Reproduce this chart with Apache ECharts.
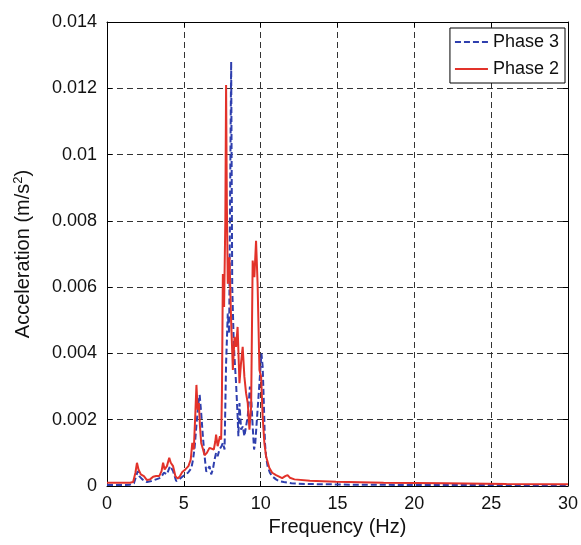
<!DOCTYPE html>
<html>
<head>
<meta charset="utf-8">
<script src="https://cdn.jsdelivr.net/npm/echarts@6/dist/echarts.min.js"></script>
<style>
  html, body { margin: 0; padding: 0; background: #fff; }
  #chart { width: 581px; height: 545px; }
</style>
</head>
<body>
<div id="chart"></div>
<script>
// Phase 3 (blue dashed)
const phase3Freq = [0, 0.5, 1.0, 1.5, 1.75, 1.9, 2.0, 2.1, 2.3, 2.6, 2.9, 3.2, 3.5, 3.7, 3.9, 4.1, 4.3, 4.5, 4.7, 4.9,
  5.1, 5.27, 5.49, 5.6, 5.7, 5.85, 5.95, 6.03, 6.13, 6.24, 6.35, 6.46, 6.55, 6.67, 6.78, 6.89, 7.0, 7.1, 7.2, 7.32,
  7.45, 7.54, 7.65, 7.75, 7.86, 7.95, 8.0, 8.08, 8.15, 8.25, 8.32, 8.4, 8.5, 8.55, 8.62, 8.73, 8.84, 8.94, 9.05, 9.16,
  9.3, 9.4, 9.48, 9.57, 9.65, 9.8, 9.92, 10.05, 10.13, 10.2, 10.28, 10.35, 10.45, 10.6, 10.78, 11.0, 11.2, 11.5, 12.0, 13,
  16, 20, 25, 30]
const phase3Acc = [0.00003, 0.00003, 0.00003, 0.00004, 0.00008, 0.0003, 0.00045, 0.0003, 0.0002, 0.00012, 0.00015, 0.0002, 0.00025, 0.0004, 0.00035, 0.0006, 0.00045, 0.00015, 0.0002, 0.00028,
  0.00035, 0.0004, 0.00054, 0.0008, 0.00115, 0.002, 0.0025, 0.00275, 0.0022, 0.0015, 0.0009, 0.00043, 0.0005, 0.0006, 0.00035, 0.0005, 0.0008, 0.001, 0.0009, 0.0011,
  0.0012, 0.0013, 0.0011, 0.0037, 0.0052, 0.0046, 0.008, 0.0128, 0.006, 0.0043, 0.0037, 0.0031, 0.0021, 0.0015, 0.0025, 0.0017, 0.0018, 0.0015, 0.0018, 0.0021,
  0.003, 0.0025, 0.0018, 0.0011, 0.0013, 0.0023, 0.0031, 0.004, 0.0036, 0.0026, 0.0013, 0.0009, 0.0006, 0.0004, 0.00028, 0.0002, 0.00015, 0.00012, 0.00008, 0.00006,
  0.00004, 0.00003, 0.00003, 0.00002]

// Phase 2 (red solid)
const phase2Freq = [0, 0.5, 1.0, 1.5, 1.7, 1.85, 1.95, 2.05, 2.2, 2.4, 2.6, 2.8, 3.0, 3.2, 3.4, 3.55, 3.65, 3.75, 3.9, 4.05,
  4.15, 4.3, 4.45, 4.6, 4.75, 4.9, 5.1, 5.3, 5.45, 5.55, 5.65, 5.75, 5.82, 5.9, 5.98, 6.05, 6.13, 6.25, 6.35, 6.5,
  6.67, 6.8, 6.95, 7.05, 7.1, 7.2, 7.27, 7.35, 7.43, 7.48, 7.54, 7.62, 7.7, 7.75, 7.8, 7.86, 7.92, 7.97, 8.02, 8.07,
  8.19, 8.3, 8.4, 8.5, 8.62, 8.72, 8.83, 8.94, 9.05, 9.16, 9.27, 9.38, 9.48, 9.59, 9.7, 9.8, 9.92, 10.03, 10.13, 10.24,
  10.35, 10.56, 10.75, 11.0, 11.4, 11.6, 11.75, 11.9, 12.2, 13.2, 14.9, 18, 22, 26, 30]
const phase2Acc = [0.0001, 0.0001, 0.0001, 0.0001, 0.00012, 0.0004, 0.0007, 0.0005, 0.00035, 0.0003, 0.00018, 0.0002, 0.00028, 0.0003, 0.0003, 0.00045, 0.0007, 0.0005, 0.0006, 0.00085,
  0.0007, 0.0006, 0.0003, 0.00022, 0.0003, 0.00042, 0.0005, 0.0006, 0.0008, 0.0013, 0.0011, 0.0022, 0.00305, 0.0023, 0.0025, 0.0018, 0.0013, 0.0011, 0.00093, 0.001,
  0.00115, 0.0011, 0.0011, 0.00135, 0.00155, 0.0012, 0.0012, 0.0015, 0.0014, 0.0028, 0.0064, 0.0054, 0.008, 0.0121, 0.0085, 0.0061, 0.0065, 0.0069, 0.006, 0.0051,
  0.0035, 0.0045, 0.0042, 0.0048, 0.0031, 0.0037, 0.0042, 0.0033, 0.0028, 0.0025, 0.0017, 0.0024, 0.0068, 0.0063, 0.0074, 0.0061, 0.0035, 0.0033, 0.0021, 0.0013,
  0.0009, 0.00055, 0.0004, 0.00033, 0.00024, 0.0003, 0.00033, 0.00025, 0.0002, 0.00016, 0.00013, 0.0001, 0.00008, 0.00006, 0.00005]

const seriesNames = ['Phase 3', 'Phase 2']

const pairs = (xs, ys) => xs.map((x, i) => [x, ys[i]])

const font = 'Liberation Sans, Arial, sans-serif'
const gridLine = { show: true, lineStyle: { color: '#333', type: [6, 4], width: 1 } }
const axisLine = { show: true, onZero: false, lineStyle: { color: '#000', width: 1 } }
const tick = { show: true, inside: true, length: 5, lineStyle: { color: '#000' } }

const chart = echarts.init(document.getElementById('chart'), null, { renderer: 'canvas' })
chart.setOption({
  animation: false,
  backgroundColor: '#fff',
  textStyle: { fontFamily: font },
  grid: { left: 107, right: 11, top: 22, bottom: 59 },
  legend: {
    data: seriesNames,
    orient: 'vertical',
    right: 16,
    top: 28,
    itemWidth: 33,
    itemHeight: 14,
    itemGap: 9,
    padding: [5, 6, 5, 4],
    borderColor: '#000',
    borderWidth: 1,
    borderRadius: 0,
    backgroundColor: '#fff',
    itemStyle: { opacity: 0 },
    textStyle: { fontFamily: font, fontSize: 18, color: '#111' }
  },
  xAxis: [{
    type: 'value', min: 0, max: 30, interval: 5,
    name: 'Frequency (Hz)', nameLocation: 'middle', nameGap: 30,
    nameTextStyle: { fontFamily: font, fontSize: 20, color: '#111' },
    axisLine, axisTick: tick, splitLine: gridLine,
    axisLabel: { color: '#111', fontSize: 18, margin: 9, fontFamily: font }
  }, {
    type: 'value', min: 0, max: 30, interval: 5, position: 'top',
    axisLine, axisTick: tick, axisLabel: { show: false }, splitLine: { show: false }
  }],
  yAxis: [{
    type: 'value', min: 0, max: 0.014, interval: 0.002,
    name: 'Acceleration (m/s{sup|2})', nameLocation: 'middle', nameGap: 72,
    nameTextStyle: {
      fontFamily: font, fontSize: 20, color: '#111',
      rich: { sup: { fontSize: 13, verticalAlign: 'top', padding: [0, 0, 10, 0], fontFamily: font, color: '#111' } }
    },
    axisLine, axisTick: tick, splitLine: gridLine,
    axisLabel: {
      color: '#111', fontSize: 18, margin: 10, fontFamily: font,
      formatter: v => String(Number(v.toFixed(3)))
    }
  }, {
    type: 'value', min: 0, max: 0.014, interval: 0.002, position: 'right',
    axisLine, axisTick: tick, axisLabel: { show: false }, splitLine: { show: false }
  }],
  series: [{
    name: 'Phase 3', type: 'line', symbol: 'none',
    data: pairs(phase3Freq, phase3Acc),
    lineStyle: { color: '#2f3fae', width: 2, type: [6, 3] },
    itemStyle: { color: '#2f3fae' }
  }, {
    name: 'Phase 2', type: 'line', symbol: 'none',
    data: pairs(phase2Freq, phase2Acc),
    lineStyle: { color: '#e2322a', width: 2 },
    itemStyle: { color: '#e2322a' }
  }]
})
</script>
</body>
</html>
